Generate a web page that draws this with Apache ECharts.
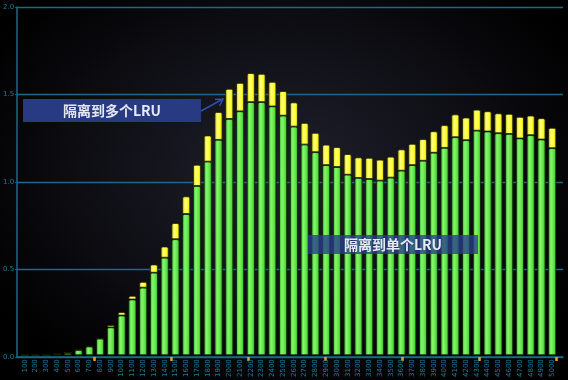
<!DOCTYPE html>
<html>
<head>
<meta charset="utf-8">
<script src="https://cdn.jsdelivr.net/npm/echarts@6/dist/echarts.min.js"></script>
<style>
html,body{margin:0;padding:0;background:#000;}
#c{width:568px;height:380px;background:radial-gradient(ellipse 60% 65% at 50% 45%, #20202c 0%, #12121a 45%, #000 100%);}
</style>
</head>
<body>
<div id="c"></div>
<script>
// categories (x values)
const categories = ['100','200','300','400','500','600','700','800','900','1000','1100','1200','1300','1400','1500','1600','1700','1800','1900','2000','2100','2200','2300','2400','2500','2600','2700','2800','2900','3000','3100','3200','3300','3400','3500','3600','3700','3800','3900','4000','4100','4200','4300','4400','4500','4600','4700','4800','4900','5000'];
// 隔离到单个LRU (green)
const singleLRU = [0,0,0,0.005,0.013,0.03,0.05,0.095,0.16,0.228,0.32,0.388,0.474,0.56,0.666,0.811,0.972,1.112,1.237,1.357,1.401,1.454,1.454,1.429,1.376,1.313,1.21,1.166,1.092,1.081,1.037,1.018,1.012,1.003,1.02,1.06,1.092,1.117,1.163,1.191,1.252,1.235,1.29,1.285,1.275,1.271,1.245,1.264,1.239,1.189];
// 隔离到多个LRU (yellow, stacked on top)
const multiLRU = [0,0,0,0.002,0.002,0.002,0.003,0.002,0.013,0.019,0.021,0.033,0.047,0.064,0.093,0.101,0.122,0.15,0.16,0.173,0.163,0.166,0.162,0.141,0.141,0.139,0.124,0.111,0.117,0.114,0.118,0.118,0.122,0.12,0.12,0.122,0.122,0.124,0.123,0.13,0.131,0.13,0.12,0.116,0.114,0.115,0.124,0.112,0.122,0.117];
// y tick labels
const yTicks = [0,0.5,1.0,1.5,2.0];
// orange marker ticks on the x axis (axis runs 0..5100)
const markerTicks = [720,1440,2160,2880,3600,4320,5040];

const teal = '#1f7e9c';
const axisCol = '#1b6a88';
const chart = echarts.init(document.getElementById('c'), null, {renderer:'canvas'});

function grad(edge, mid, hi){
  return new echarts.graphic.LinearGradient(0,0,1,0,[
    {offset:0,color:edge},{offset:0.35,color:hi},{offset:0.7,color:mid},{offset:1,color:edge}
  ]);
}

chart.setOption({
  backgroundColor:'transparent',
  animation:false,
  grid:[
    {left:14,right:5,top:7,bottom:23,containLabel:false},
    {left:19.4,right:10.4,top:7,bottom:23,containLabel:false}
  ],
  xAxis:[
    {gridIndex:0,type:'value',min:0,max:5100,
     splitLine:{show:false},
     axisLine:{show:true,lineStyle:{color:axisCol,width:1.5}},
     axisTick:{show:true,customValues:markerTicks,length:4,lineStyle:{color:'#f0a020',width:2.5}},
     axisLabel:{show:false}},
    {gridIndex:1,type:'category',data:categories,boundaryGap:true,
     axisLine:{show:false},axisTick:{show:false},
     axisLabel:{interval:0,rotate:90,fontSize:7,color:teal,margin:4,fontFamily:'DejaVu Sans'}}
  ],
  yAxis:[
    {gridIndex:0,type:'value',min:yTicks[0],max:yTicks[yTicks.length-1],interval:0.5,
     axisLine:{show:true,lineStyle:{color:axisCol,width:1.5}},
     axisTick:{show:true,length:2,lineStyle:{color:axisCol}},
     axisLabel:{fontSize:7,color:teal,margin:3,fontFamily:'DejaVu Sans',formatter:v=>v.toFixed(1)},
     splitLine:{show:true,lineStyle:{color:axisCol,width:1.3}}},
    {gridIndex:1,type:'value',min:yTicks[0],max:yTicks[yTicks.length-1],interval:0.5,show:false,splitLine:{show:false}}
  ],
  series:[
    {name:'隔离到单个LRU',type:'bar',stack:'s',barWidth:8,xAxisIndex:1,yAxisIndex:1,
     data:singleLRU,
     itemStyle:{color:grad('#36b026','#5ee544','#86f86c'),borderColor:'#0b1f08',borderWidth:0.8,borderRadius:[1.5,1.5,0,0]}},
    {name:'隔离到多个LRU',type:'bar',stack:'s',barWidth:8,xAxisIndex:1,yAxisIndex:1,
     data:multiLRU,
     itemStyle:{color:grad('#cfc400','#ffff2a','#ffff78'),borderColor:'#1f1f05',borderWidth:0.8,borderRadius:[1.5,1.5,0,0]}}
  ],
  graphic:[
    {type:'rect',shape:{x:23,y:99,width:178,height:23},style:{fill:'#283b82'},z:100},
    {type:'text',x:112,y:111,style:{text:'隔离到多个LRU',fill:'#e6e8f2',font:'bold 14px "Noto Sans CJK SC"',align:'center',verticalAlign:'middle'},z:101},
    {type:'line',shape:{x1:201,y1:111,x2:223,y2:99},style:{stroke:'#3050a8',lineWidth:1.5},z:100},
    {type:'polyline',shape:{points:[[215,99.5],[223,99],[219.5,106]]},style:{stroke:'#3050a8',lineWidth:1.5,fill:null},z:100},
    {type:'rect',shape:{x:308,y:235,width:170,height:19},style:{fill:'rgba(40,60,140,0.78)'},z:100},
    {type:'text',x:393,y:245,style:{text:'隔离到单个LRU',fill:'#e6e8f2',font:'bold 14px "Noto Sans CJK SC"',align:'center',verticalAlign:'middle'},z:101}
  ]
});
</script>
</body>
</html>
